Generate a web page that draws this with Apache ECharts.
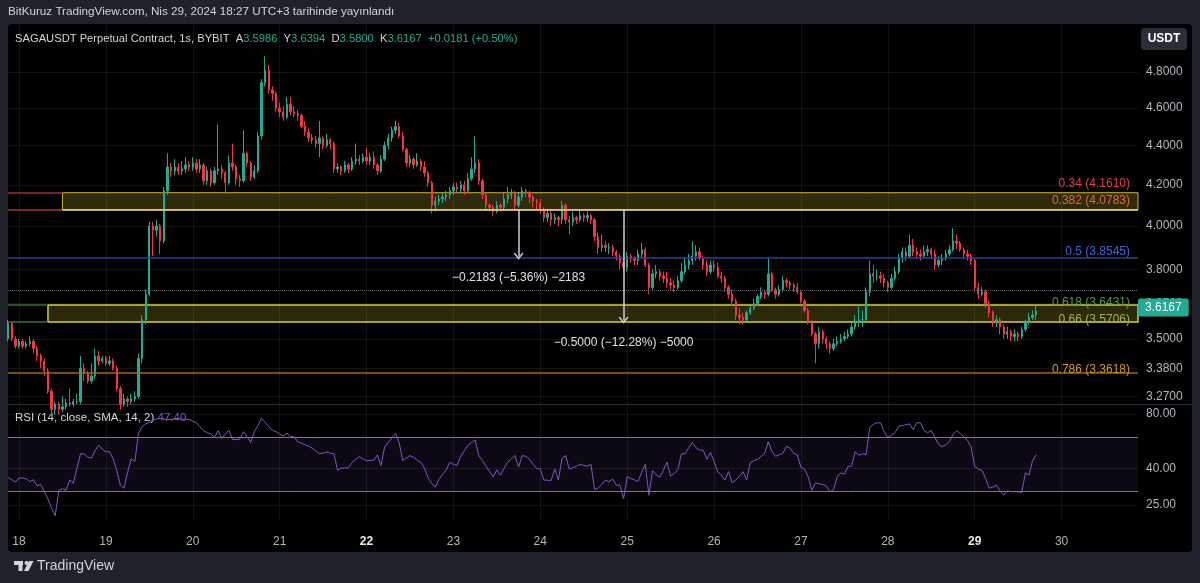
<!DOCTYPE html>
<html>
<head>
<meta charset="utf-8">
<title>SAGAUSDT 1s BYBIT</title>
<script src="https://cdn.jsdelivr.net/npm/echarts@6.0.0/dist/echarts.min.js"></script>
<style>
html, body { margin: 0; padding: 0; background: #1f222b; }
#main { width: 1200px; height: 583px; }
</style>
</head>
<body>
<div id="main"></div>
<script>
// hourly candles, first one is 17 Apr 21:00
// x is counted in hours from 18 Apr 00:00, so the first candle sits at -3
var firstHour = -3;
var firstOpen = 3.50;

// one row is roughly one day of candles
var closePrices = [
  3.565, 3.50, 3.47,
  3.49, 3.47, 3.48, 3.49, 3.46, 3.43, 3.41, 3.37, 3.29, 3.22, 3.24, 3.22, 3.23, 3.245, 3.24, 3.25, 3.25, 3.38, 3.36, 3.33, 3.35, 3.43, 3.41, 3.42,
  3.40, 3.41, 3.38, 3.30, 3.24, 3.26, 3.25, 3.26, 3.27, 3.42, 3.58, 3.69, 4.00, 3.98, 4.00, 3.93, 4.17, 4.29, 4.27, 4.29, 4.27, 4.28, 4.30, 4.29,
  4.31, 4.28, 4.30, 4.22, 4.27, 4.21, 4.27, 4.28, 4.26, 4.21, 4.31, 4.29, 4.23, 4.22, 4.36, 4.31, 4.24, 4.27, 4.45, 4.74, 4.81, 4.70, 4.68, 4.60,
  4.58, 4.55, 4.62, 4.58, 4.57, 4.56, 4.50, 4.47, 4.44, 4.43, 4.41, 4.44, 4.40, 4.43, 4.41, 4.28, 4.29, 4.27, 4.30, 4.28, 4.32, 4.33, 4.32, 4.34,
  4.32, 4.34, 4.30, 4.27, 4.33, 4.40, 4.44, 4.48, 4.50, 4.45, 4.38, 4.31, 4.33, 4.30, 4.32, 4.29, 4.26, 4.21, 4.10, 4.12, 4.13, 4.14, 4.15, 4.17,
  4.19, 4.18, 4.20, 4.17, 4.23, 4.28, 4.31, 4.22, 4.15, 4.10, 4.09, 4.07, 4.10, 4.09, 4.13, 4.15, 4.16, 4.10, 4.14, 4.17, 4.16, 4.14, 4.12, 4.11,
  4.08, 4.04, 4.06, 4.03, 4.04, 4.03, 4.10, 4.03, 4.02, 4.04, 4.03, 4.05, 4.04, 4.05, 4.03, 3.95, 3.90, 3.91, 3.90, 3.90, 3.88, 3.86, 3.83, 3.81,
  3.86, 3.85, 3.84, 3.87, 3.89, 3.82, 3.72, 3.78, 3.79, 3.77, 3.76, 3.74, 3.73, 3.72, 3.75, 3.79, 3.82, 3.84, 3.86, 3.88, 3.85, 3.82, 3.79, 3.82,
  3.81, 3.77, 3.76, 3.72, 3.69, 3.66, 3.60, 3.59, 3.58, 3.61, 3.63, 3.65, 3.68, 3.70, 3.69, 3.78, 3.71, 3.69, 3.71, 3.75, 3.74, 3.73, 3.72,
  3.70, 3.66, 3.62, 3.57, 3.52, 3.48, 3.53, 3.50, 3.48, 3.46, 3.48, 3.49, 3.50, 3.51, 3.52, 3.55, 3.57, 3.58, 3.58, 3.70, 3.78, 3.77, 3.77,
  3.76, 3.74, 3.72, 3.76, 3.79, 3.85, 3.88, 3.86, 3.91, 3.88, 3.87, 3.86, 3.88, 3.89, 3.87, 3.82, 3.84, 3.85, 3.87, 3.89, 3.93, 3.92, 3.89, 3.87,
  3.86, 3.84, 3.72, 3.69, 3.70, 3.65, 3.61, 3.57, 3.58, 3.55, 3.52, 3.53, 3.51, 3.52, 3.51, 3.54, 3.57, 3.59, 3.60, 3.6167
];

var highPrices = [
  3.58, 3.57, 3.51,
  3.50, 3.50, 3.49, 3.51, 3.50, 3.47, 3.44, 3.42, 3.38, 3.30, 3.25, 3.25, 3.27, 3.26, 3.30, 3.26, 3.28, 3.43, 3.40, 3.37, 3.40, 3.46, 3.45, 3.43,
  3.43, 3.43, 3.42, 3.39, 3.31, 3.28, 3.27, 3.28, 3.29, 3.44, 3.60, 3.71, 4.02, 4.02, 4.03, 4.01, 4.19, 4.36, 4.31, 4.33, 4.31, 4.32, 4.34, 4.32,
  4.34, 4.33, 4.33, 4.31, 4.29, 4.28, 4.29, 4.51, 4.30, 4.27, 4.35, 4.41, 4.30, 4.25, 4.48, 4.37, 4.32, 4.30, 4.47, 4.76, 4.89, 4.84, 4.72, 4.69,
  4.63, 4.61, 4.66, 4.66, 4.61, 4.59, 4.57, 4.53, 4.49, 4.46, 4.45, 4.53, 4.45, 4.46, 4.44, 4.42, 4.31, 4.30, 4.32, 4.31, 4.34, 4.41, 4.35, 4.36,
  4.39, 4.36, 4.37, 4.31, 4.35, 4.42, 4.46, 4.50, 4.53, 4.52, 4.47, 4.39, 4.35, 4.34, 4.36, 4.33, 4.32, 4.27, 4.22, 4.14, 4.15, 4.16, 4.17, 4.19,
  4.21, 4.21, 4.22, 4.22, 4.26, 4.34, 4.45, 4.33, 4.23, 4.16, 4.11, 4.10, 4.12, 4.11, 4.16, 4.19, 4.18, 4.17, 4.16, 4.19, 4.18, 4.17, 4.15, 4.13,
  4.13, 4.09, 4.08, 4.07, 4.06, 4.05, 4.12, 4.11, 4.05, 4.07, 4.05, 4.08, 4.06, 4.07, 4.06, 4.04, 3.97, 3.96, 3.93, 3.92, 3.91, 3.89, 3.87, 3.88,
  3.88, 3.87, 3.86, 3.89, 3.92, 3.90, 3.83, 3.80, 3.82, 3.80, 3.79, 3.79, 3.76, 3.75, 3.77, 3.83, 3.85, 3.87, 3.93, 3.91, 3.90, 3.86, 3.84, 3.84,
  3.84, 3.83, 3.79, 3.77, 3.73, 3.71, 3.67, 3.63, 3.61, 3.62, 3.64, 3.67, 3.69, 3.72, 3.71, 3.85, 3.79, 3.72, 3.73, 3.77, 3.76, 3.75, 3.74,
  3.74, 3.71, 3.67, 3.63, 3.58, 3.53, 3.55, 3.54, 3.51, 3.49, 3.50, 3.51, 3.52, 3.53, 3.54, 3.57, 3.60, 3.64, 3.62, 3.72, 3.84, 3.82, 3.80,
  3.79, 3.78, 3.75, 3.78, 3.81, 3.87, 3.90, 3.90, 3.96, 3.94, 3.90, 3.89, 3.91, 3.91, 3.90, 3.89, 3.86, 3.87, 3.89, 3.91, 3.99, 3.96, 3.93, 3.90,
  3.89, 3.87, 3.85, 3.74, 3.72, 3.71, 3.66, 3.62, 3.60, 3.59, 3.56, 3.55, 3.54, 3.54, 3.53, 3.55, 3.58, 3.61, 3.62, 3.6394
];

var lowPrices = [
  3.49, 3.49, 3.46,
  3.46, 3.46, 3.46, 3.47, 3.44, 3.41, 3.38, 3.35, 3.28, 3.19, 3.20, 3.20, 3.21, 3.22, 3.23, 3.23, 3.24, 3.24, 3.33, 3.32, 3.32, 3.34, 3.39, 3.40,
  3.39, 3.39, 3.37, 3.29, 3.22, 3.23, 3.23, 3.24, 3.25, 3.26, 3.40, 3.56, 3.68, 3.86, 3.95, 3.87, 3.92, 4.15, 4.24, 4.25, 4.25, 4.25, 4.26, 4.27,
  4.27, 4.26, 4.26, 4.20, 4.20, 4.19, 4.20, 4.25, 4.23, 4.16, 4.20, 4.27, 4.20, 4.19, 4.21, 4.29, 4.22, 4.23, 4.26, 4.43, 4.72, 4.68, 4.64, 4.58,
  4.55, 4.53, 4.54, 4.56, 4.55, 4.53, 4.49, 4.45, 4.42, 4.41, 4.39, 4.34, 4.38, 4.39, 4.38, 4.26, 4.26, 4.25, 4.26, 4.26, 4.27, 4.30, 4.30, 4.31,
  4.30, 4.30, 4.28, 4.25, 4.26, 4.32, 4.38, 4.42, 4.46, 4.44, 4.37, 4.29, 4.29, 4.28, 4.29, 4.27, 4.24, 4.19, 4.06, 4.07, 4.10, 4.11, 4.12, 4.13,
  4.15, 4.16, 4.16, 4.15, 4.16, 4.22, 4.26, 4.20, 4.13, 4.08, 4.07, 4.05, 4.06, 4.07, 4.08, 4.11, 4.13, 4.08, 4.09, 4.12, 4.14, 4.11, 4.09, 4.08,
  4.06, 4.02, 4.02, 4.00, 4.01, 4.00, 4.01, 4.01, 3.96, 4.00, 4.01, 4.02, 4.02, 4.02, 4.01, 3.93, 3.87, 3.88, 3.88, 3.87, 3.86, 3.84, 3.80, 3.79,
  3.79, 3.83, 3.82, 3.82, 3.85, 3.81, 3.69, 3.71, 3.76, 3.75, 3.74, 3.72, 3.71, 3.70, 3.71, 3.74, 3.78, 3.80, 3.82, 3.84, 3.84, 3.80, 3.77, 3.78,
  3.79, 3.76, 3.74, 3.70, 3.67, 3.64, 3.58, 3.56, 3.56, 3.57, 3.60, 3.62, 3.64, 3.67, 3.67, 3.68, 3.70, 3.67, 3.68, 3.70, 3.72, 3.71, 3.70,
  3.69, 3.65, 3.61, 3.56, 3.51, 3.40, 3.46, 3.48, 3.46, 3.44, 3.45, 3.47, 3.48, 3.49, 3.50, 3.51, 3.54, 3.55, 3.55, 3.57, 3.68, 3.74, 3.75,
  3.74, 3.72, 3.70, 3.71, 3.75, 3.78, 3.83, 3.84, 3.85, 3.86, 3.85, 3.84, 3.85, 3.86, 3.85, 3.80, 3.81, 3.82, 3.84, 3.86, 3.88, 3.89, 3.88, 3.85,
  3.84, 3.82, 3.70, 3.67, 3.68, 3.63, 3.59, 3.55, 3.55, 3.52, 3.50, 3.50, 3.49, 3.49, 3.49, 3.50, 3.53, 3.56, 3.58, 3.58
];

// RSI (14) one value per candle
var rsiValues = [
  35.5, 34.5, 33.5,
  35.3, 35.3, 35, 33.7, 34.5, 31.9, 32.5, 29.6, 27, 24, 21.8, 30.2, 30.8, 30.2, 34.4, 33, 40, 48.1, 48.1, 46, 45.5, 50, 53.7, 51,
  49.4, 49.4, 45, 39, 32.2, 31, 38, 45.3, 43.5, 62.3, 68, 70.5, 72, 74.1, 75, 75.7, 75, 74.5, 74.6, 74.8, 74.9, 75, 74.8, 74.5,
  73, 71.4, 68, 64.6, 63, 62, 59.3, 64.6, 58.5, 62, 65, 57.6, 57.8, 58, 63.8, 60, 55.6, 63.8, 69, 75.7, 72, 68, 65, 63.8,
  62, 60.5, 62.5, 60, 59.8, 56.1, 55, 54, 53, 51.7, 50, 48.1, 48.5, 49.3, 48.5, 48.1, 39, 40, 40.2, 40.2, 43, 44.8, 46.4, 45,
  44, 44.2, 44.3, 47.4, 41.4, 52.5, 55.6, 59, 62.3, 55.6, 44.2, 45.5, 47, 46, 44.2, 43.2, 40, 35.5, 33, 31.4, 34.6, 37, 39, 43.2,
  42, 41.5, 46.4, 50, 53.7, 55.5, 57.4, 47, 44.2, 41, 38.3, 35.8, 39.2, 36.6, 40, 43.2, 45, 47, 40.6, 47, 46.6, 45, 41.8, 40,
  39.6, 34.4, 34.3, 34.2, 39.6, 34.4, 45.3, 47, 39.6, 40.3, 41, 42, 41.5, 41, 42, 30.5, 31, 32.5, 34.4, 33.7, 34.8, 32.2, 32.2, 27.1,
  36, 35, 34.5, 33.7, 38, 42, 28.3, 38.8, 36.8, 35.7, 39, 43.2, 36.2, 37.5, 39.3, 48.1, 48.1, 52, 55.6, 52, 50.4, 50.4, 44.8, 49,
  43.4, 38.3, 36.5, 34.4, 38.3, 33.2, 34.4, 36, 38.3, 34.4, 43, 44, 44.8, 46.6, 48.4, 56.1, 49.4, 46.6, 47.5, 48.4, 53, 51.7, 48.4, 47.6,
  40.4, 39.6, 35.8, 30.2, 33.2, 32.8, 32.5, 31.9, 29.6, 30.3, 35.8, 37.7, 37, 40.9, 41.2, 49.4, 47.2, 48.1, 47.7, 67.2, 70, 71.5, 71.5, 63.8,
  59.3, 61, 63, 68.3, 69, 69.8, 70.5, 65.5, 71.5, 71.5, 64.8, 62.9, 65, 59.3, 54.5, 52.5, 54, 56.1, 61.6, 64.6, 62.3, 60, 57, 52.5,
  40.9, 39.6, 38.9, 35.2, 31, 31.4, 32.2, 30, 28.3, 30, 29.6, 29.6, 29.6, 29.3, 37.7, 36.6, 44.2, 47.4
];

var priceTicks = [4.8, 4.6, 4.4, 4.2, 4.0, 3.8, 3.65, 3.5, 3.38, 3.27];
var rsiTicks = [80, 40, 25];
var rsiBands = [60, 30];
var dayTicks = [18, 19, 20, 21, 22, 23, 24, 25, 26, 27, 28, 29, 30];
var boldDays = [22, 29];

var fibRatios = ['0.34', '0.382', '0.5', '0.618', '0.66', '0.786'];
var fibPrices = [4.1610, 4.0783, 3.8545, 3.6431, 3.5706, 3.3618];
var upperBoxHour = 12;   // 0.34 - 0.382 zone starts here
var lowerBoxHour = 8;    // 0.618 - 0.66 zone starts here
var dottedPrice = 3.695;
var lastPrice = 3.6167;

var measureHours = [138, 167];
var measureFrom = [4.0783, 4.0783];
var measureTo = [3.8600, 3.5783];
var measureText = ['\u22120.2183 (\u22125.36%) \u22122183', '\u22120.5000 (\u221212.28%) \u22125000'];

// ---- scales: the price and RSI panes are logarithmic, like the original
var X_MIN = -3.04, X_MAX = 309.11;
var P_MIN = Math.log(3.2405), P_MAX = Math.log(5.0806);
var R_MIN = Math.log(20.63), R_MAX = Math.log(89.77);
var ln = Math.log;

var FONT = '"Liberation Sans", Arial, sans-serif';
var gridColor = 'rgba(255,255,255,0.075)';
var upColor = '#22ab94', downColor = '#f23645';
var hidden = 'rgba(0,0,0,0)';

var candleRows = closePrices.map(function (c, i) {
  var o = i === 0 ? firstOpen : closePrices[i - 1];
  return [firstHour + i, ln(o), ln(c), ln(lowPrices[i]), ln(highPrices[i])];
});
var rsiRows = rsiValues.map(function (v, i) { return [firstHour + i, ln(v)]; });
var dayHours = dayTicks.map(function (d) { return (d - 18) * 24; });

var fibTextColors = ['#d6424a', '#e26a3c', '#4264d4', '#4f9e4f', '#9fb547', '#d4952a'];
var fibLineColors = ['#9c2f36', '#a0382e', '#2e409a', '#3b6a37', '#4b6d2f', '#a0681c'];
var fibLineEnds = [upperBoxHour, upperBoxHour, X_MAX, lowerBoxHour, lowerBoxHour, X_MAX];

var markLines = [];
fibPrices.forEach(function (p, k) {
  markLines.push([
    { coord: [X_MIN, ln(p)], lineStyle: { color: fibLineColors[k], width: 1.5, type: 'solid' } },
    { coord: [fibLineEnds[k], ln(p)] }
  ]);
  markLines.push({
    yAxis: ln(p),
    lineStyle: { color: hidden, width: 0 },
    label: {
      show: true, position: 'insideEndTop', distance: [8, -1],
      formatter: fibRatios[k] + ' (' + p.toFixed(4) + ')',
      color: fibTextColors[k], fontSize: 12, fontFamily: FONT
    }
  });
});
// bright lower edge of the upper zone
markLines.push([
  { coord: [upperBoxHour, ln(fibPrices[1])], lineStyle: { color: '#f0d98a', width: 1.5, type: 'solid' } },
  { coord: [X_MAX, ln(fibPrices[1])] }
]);
markLines.push({ yAxis: ln(dottedPrice), lineStyle: { color: '#5d606b', width: 1, type: 'dotted' } });
measureHours.forEach(function (h, k) {
  markLines.push([
    {
      coord: [h, ln(measureFrom[k])], symbol: 'none',
      lineStyle: { color: '#d0d0d0', width: 1.5, type: 'solid' },
      label: { show: true, position: 'end', distance: 16, formatter: measureText[k], color: '#dfe1e6', fontSize: 12, fontFamily: FONT }
    },
    { coord: [h, ln(measureTo[k])], symbol: 'path://M0,9L5,0L10,9L8.6,9.8L5,3.4L1.4,9.8Z', symbolSize: [10, 7] }
  ]);
});
markLines.push({
  yAxis: ln(lastPrice),
  lineStyle: { color: hidden, width: 0 },
  label: {
    show: true, position: 'end', distance: 0, formatter: lastPrice.toFixed(4),
    backgroundColor: upColor, color: '#ffffff', padding: [3, 7, 3, 7], borderRadius: 2,
    fontSize: 12, fontFamily: FONT
  }
});

var chart = echarts.init(document.getElementById('main'));

chart.setOption({
  backgroundColor: '#1f222b',
  animation: false,
  textStyle: { fontFamily: FONT },
  grid: [
    { left: 8, top: 24, width: 1130, height: 380 },
    { left: 8, top: 405, width: 1130, height: 115 }
  ],
  xAxis: [
    {
      type: 'value', gridIndex: 0, min: X_MIN, max: X_MAX,
      axisLine: { show: false },
      axisTick: { show: false, customValues: dayHours },
      axisLabel: { show: false, customValues: dayHours },
      splitLine: { show: true, lineStyle: { color: gridColor } }
    },
    {
      type: 'value', gridIndex: 1, min: X_MIN, max: X_MAX,
      axisLine: { show: false },
      axisTick: { show: false, customValues: dayHours },
      axisLabel: {
        customValues: dayHours, margin: 16, color: '#b2b5be', fontSize: 12,
        formatter: function (h) {
          var d = Math.round(18 + h / 24);
          return boldDays.indexOf(d) >= 0 ? '{b|' + d + '}' : String(d);
        },
        rich: { b: { fontWeight: 'bold', color: '#e6e8ee', fontSize: 12 } }
      },
      splitLine: { show: true, lineStyle: { color: gridColor } }
    }
  ],
  yAxis: [
    {
      type: 'value', gridIndex: 0, position: 'right', min: P_MIN, max: P_MAX,
      axisLine: { show: false },
      axisTick: { show: false, customValues: priceTicks.map(ln) },
      axisLabel: {
        customValues: priceTicks.map(ln), margin: 8, color: '#b2b5be', fontSize: 12,
        formatter: function (v) { return Math.exp(v).toFixed(4); }
      },
      splitLine: { show: true, lineStyle: { color: gridColor } }
    },
    {
      type: 'value', gridIndex: 1, position: 'right', min: R_MIN, max: R_MAX,
      axisLine: { show: false },
      axisTick: { show: false, customValues: rsiTicks.map(ln) },
      axisLabel: {
        customValues: rsiTicks.map(ln), margin: 8, color: '#b2b5be', fontSize: 12,
        formatter: function (v) { return Math.exp(v).toFixed(2); }
      },
      splitLine: { show: true, lineStyle: { color: gridColor } }
    }
  ],
  series: [
    {
      name: 'SAGAUSDT',
      type: 'candlestick',
      xAxisIndex: 0, yAxisIndex: 0,
      data: candleRows,
      encode: { x: 0, y: [1, 2, 3, 4] },
      barWidth: 1.8,
      clip: true,
      itemStyle: { color: upColor, color0: downColor, borderColor: upColor, borderColor0: downColor, borderWidth: 1 },
      markArea: {
        silent: true,
        data: [
          [
            { coord: [upperBoxHour, ln(fibPrices[0])], itemStyle: { color: 'rgba(214,192,52,0.22)', borderColor: '#c9b53c', borderWidth: 1 } },
            { coord: [X_MAX, ln(fibPrices[1])] }
          ],
          [
            { coord: [lowerBoxHour, ln(fibPrices[3])], itemStyle: { color: 'rgba(214,205,52,0.2)', borderColor: '#d3cd48', borderWidth: 1.5 } },
            { coord: [X_MAX, ln(fibPrices[4])] }
          ]
        ]
      },
      markLine: {
        silent: true,
        symbol: ['none', 'none'],
        label: { show: false },
        data: markLines
      }
    },
    {
      name: 'RSI',
      type: 'line',
      xAxisIndex: 1, yAxisIndex: 1,
      data: rsiRows,
      showSymbol: false,
      lineStyle: { color: '#7e57c2', width: 1 },
      markArea: {
        silent: true,
        itemStyle: { color: 'rgba(126,87,194,0.1)' },
        data: [[{ yAxis: ln(rsiBands[0]) }, { yAxis: ln(rsiBands[1]) }]]
      },
      markLine: {
        silent: true,
        symbol: ['none', 'none'],
        label: { show: false },
        lineStyle: { color: '#787b86', width: 1, type: 'solid' },
        data: rsiBands.map(function (b) { return { yAxis: ln(b) }; })
      }
    }
  ],
  graphic: [
    { type: 'rect', z: -10, shape: { x: 8, y: 24, width: 1184, height: 528, r: 4 }, style: { fill: '#000000' } },
    { type: 'line', z: 1, shape: { x1: 8, y1: 404.5, x2: 1192, y2: 404.5 }, style: { stroke: '#2a2e39', lineWidth: 1 } },
    {
      type: 'text', x: 8, y: 12,
      style: {
        text: 'BitKuruz TradingView.com, Nis 29, 2024 18:27 UTC+3 tarihinde yay\u0131nland\u0131',
        fill: '#d1d4dc', font: '11.7px ' + FONT, verticalAlign: 'middle'
      }
    },
    {
      type: 'text', x: 15, y: 39, z: 10,
      style: {
        text: '{n|SAGAUSDT Perpetual Contract, 1s, BYBIT}  {n|A}{v|3.5986}  {n|Y}{v|3.6394}  {n|D}{v|3.5800}  {n|K}{v|3.6167}  {v|+0.0181 (+0.50%)}',
        verticalAlign: 'middle', font: '11.2px ' + FONT,
        rich: {
          n: { fill: '#d1d4dc', fontSize: 11.2, fontFamily: FONT },
          v: { fill: '#22ab94', fontSize: 11.2, fontFamily: FONT }
        }
      }
    },
    {
      type: 'text', x: 15, y: 418, z: 1,
      style: {
        text: '{n|RSI (14, close, SMA, 14, 2)} {v|47.40}',
        verticalAlign: 'middle', font: '11.5px ' + FONT,
        rich: {
          n: { fill: '#d1d4dc', fontSize: 11.5, fontFamily: FONT },
          v: { fill: '#7e57c2', fontSize: 11.5, fontFamily: FONT }
        }
      }
    },
    { type: 'rect', z: 10, shape: { x: 1141, y: 28, width: 46, height: 22, r: 4 }, style: { fill: '#2a2e39' } },
    {
      type: 'text', z: 11, x: 1164, y: 39,
      style: { text: 'USDT', fill: '#ffffff', font: 'bold 12px ' + FONT, align: 'center', verticalAlign: 'middle' }
    },
    { type: 'rect', shape: { x: 14, y: 561, width: 9, height: 4 }, style: { fill: '#d1d4dc' } },
    { type: 'rect', shape: { x: 18.5, y: 561, width: 4, height: 10 }, style: { fill: '#d1d4dc' } },
    { type: 'circle', shape: { cx: 26.5, cy: 563, r: 2 }, style: { fill: '#d1d4dc' } },
    { type: 'polygon', shape: { points: [[29, 561], [33.5, 561], [28.5, 571], [24, 571]] }, style: { fill: '#d1d4dc' } },
    {
      type: 'text', x: 37, y: 566,
      style: { text: 'TradingView', fill: '#d1d4dc', font: '14px ' + FONT, verticalAlign: 'middle' }
    }
  ]
});
</script>
</body>
</html>
